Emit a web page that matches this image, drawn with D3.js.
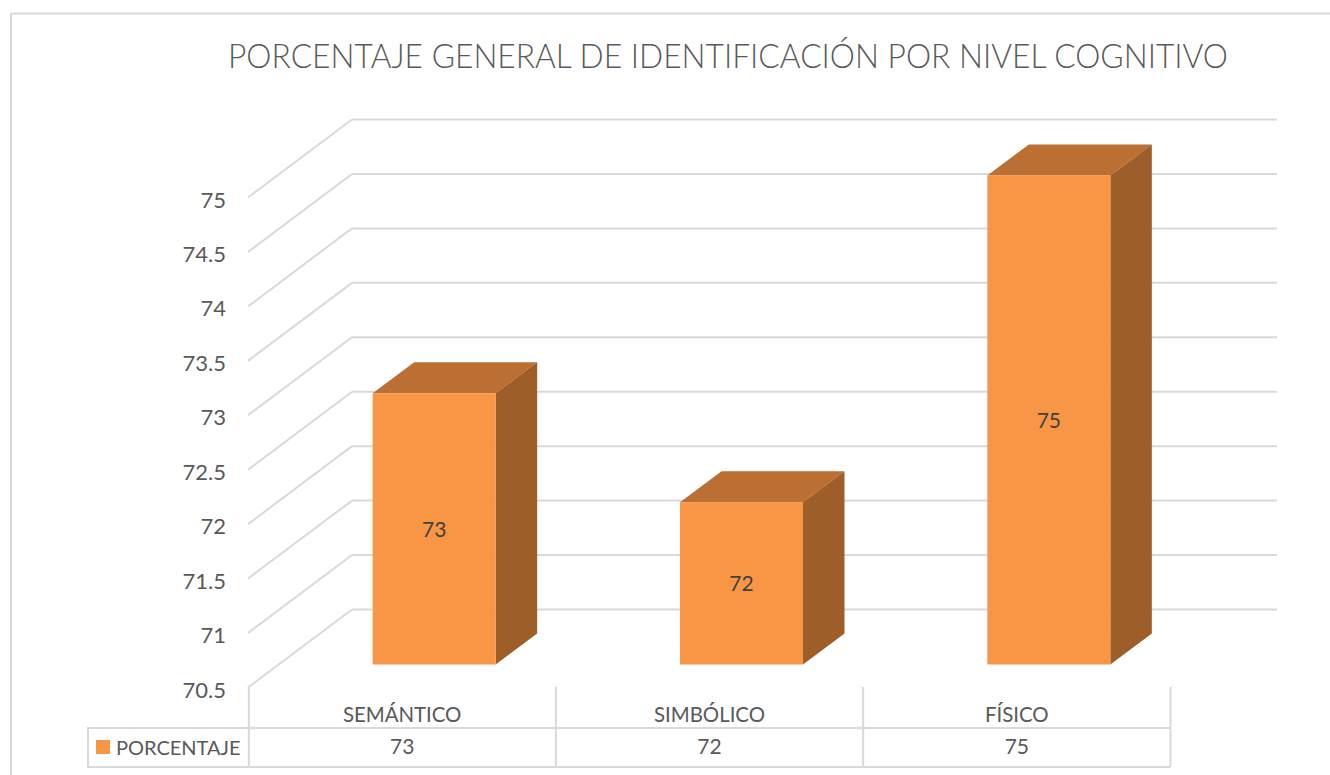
<!DOCTYPE html>
<html><head><meta charset="utf-8"><style>html,body{margin:0;padding:0;background:#fff}svg{display:block}text{font-family:Lato,sans-serif;fill:#595959}</style>
<script src="https://cdn.jsdelivr.net/npm/d3@7"></script></head><body><svg id="c" width="1330" height="775"></svg>
<script>
const categories=["SEMÁNTICO","SIMBÓLICO","FÍSICO"];
const values=[73,72,75];
const tickValues=[70.5,71,71.5,72,72.5,73,73.5,74,74.5,75];
const seriesName="PORCENTAJE";
const title="PORCENTAJE GENERAL DE IDENTIFICACIÓN POR NIVEL COGNITIVO";
const svg=d3.select("#c");
const grid="#d9d9d9";
const y=d3.scaleLinear().domain([70.5,75]).range([687.5,197.5]);
const x=d3.scaleBand().domain(categories).range([248.5,1170.5]);
const dx=104,dy=-78;
const line=(a,b,c,d,col=grid,w=2)=>svg.append("line").attr("x1",a).attr("y1",b).attr("x2",c).attr("y2",d).attr("stroke",col).attr("stroke-width",w);
// frame
svg.append("path").attr("d","M11 13.5H1330M11 13V775").attr("fill","none").attr("stroke",grid).attr("stroke-width",2);
svg.append("text").attr("x",728).attr("y",68).attr("text-anchor","middle").attr("font-size",33).attr("textLength",1000).attr("lengthAdjust","spacingAndGlyphs").attr("font-weight",300).text(title);
// walls
tickValues.forEach(t=>{const py=y(t);line(248,py,248+dx,py+dy);line(248+dx,py+dy,1277,py+dy);});
// y labels
svg.selectAll(".yl").data(tickValues).join("text").attr("x",226).attr("y",d=>y(d)+10).attr("text-anchor","end").attr("font-size",22).text(d=>d);
// bars
const barW=123,depX=41.5,depY=-31,baseY=664.5,barShift=32,topShift=22;
const bars=svg.selectAll(".bar").data(categories).join("g");
bars.each(function(c,i){
 const g=d3.select(this),xl=x(c)+(x.bandwidth()-barW)/2+barShift,xr=xl+barW,top=y(values[i])-topShift;
 g.append("path").attr("d",`M${xl} ${top}L${xl+depX} ${top+depY}H${xr+depX}L${xr} ${top}Z`).attr("fill","#bb6f33");
 g.append("path").attr("d",`M${xr} ${top}L${xr+depX} ${top+depY}V${baseY+depY}L${xr} ${baseY}Z`).attr("fill","#9d5e2a");
 g.append("rect").attr("x",xl).attr("y",top).attr("width",barW).attr("height",baseY-top).attr("fill","#f99646");
 g.append("text").attr("x",(xl+xr)/2).attr("y",(top+baseY)/2+8).attr("text-anchor","middle").attr("font-size",21).attr("style","fill:#404040").text(values[i]);
});
// table
const tTop=728,tBot=767;
line(248.8,687,248.8,tBot);
categories.forEach(c=>{line(x(c)+x.bandwidth(),687,x(c)+x.bandwidth(),tBot);
 svg.append("text").attr("x",x(c)+x.bandwidth()/2).attr("y",722).attr("text-anchor","middle").attr("font-size",20.4).text(c);});
line(87,tTop,1170.5,tTop);line(87,tBot,1170.5,tBot);line(88,tTop,88,tBot);
svg.append("rect").attr("x",96).attr("y",740).attr("width",14).attr("height",14).attr("fill","#f99646");
svg.append("text").attr("x",116).attr("y",755).attr("font-size",20).text(seriesName);
categories.forEach((c,i)=>svg.append("text").attr("x",x(c)+x.bandwidth()/2).attr("y",754).attr("text-anchor","middle").attr("font-size",21).text(values[i]));
</script></body></html>
